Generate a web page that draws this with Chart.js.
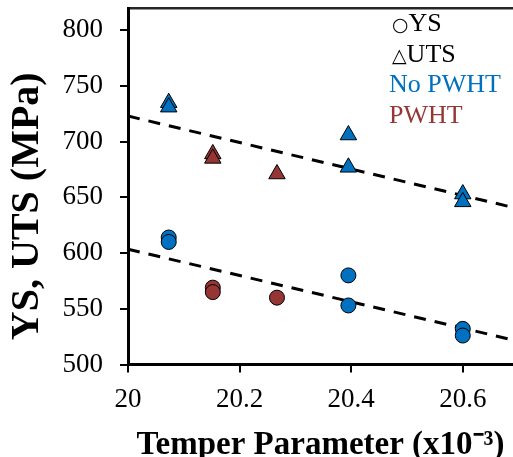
<!DOCTYPE html>
<html><head><meta charset="utf-8">
<script src="https://cdn.jsdelivr.net/npm/chart.js@4/dist/chart.umd.min.js"></script>
<style>html,body{margin:0;padding:0;background:#fff;overflow:hidden}#wrap{width:513px;height:457px;position:relative}canvas{display:block}</style>
</head><body><div id="wrap"><canvas id="c" width="513" height="457" style="width:513px;height:457px"></canvas></div>
<script>
// ---- data ----
const xTickValues = [20, 20.2, 20.4, 20.6];
const yTickValues = [500, 550, 600, 650, 700, 750, 800];
const xAxisTitle = 'Temper Parameter (x10\u207B\u00B3)';
const yAxisTitle = 'YS, UTS (MPa)    ';

const noPwhtX   = [20.073, 20.073, 20.395, 20.395, 20.6, 20.6];
const noPwhtYS  = [614, 610, 580, 553, 532, 526];
const noPwhtUTS = [735, 731, 706, 677, 653, 646];

const pwhtX   = [20.152, 20.152, 20.267];
const pwhtYS  = [569, 565, 560];
const pwhtUTS = [689, 685, 671];

const trendX      = [20, 20.69];
const trendUTS    = [723, 641];
const trendYS     = [603.5, 522];

const legendSymbols = ['\u25CB', '\u25B3', '', ''];
const legendLabels  = ['YS', 'UTS', 'No PWHT', 'PWHT'];
const legendColors  = ['#000000', '#000000', '#0070C0', '#953735'];

// ---- build ----
const BLUE = '#0070C0', RED = '#963634';
const pts = (xs, ys) => xs.map((x, i) => ({x, y: ys[i]}));

const markerDs = (label, xs, ys, color, style, r) => ({
  type: 'scatter', label, data: pts(xs, ys),
  pointStyle: style, pointRadius: r, pointHoverRadius: r,
  backgroundColor: color, borderColor: '#000', pointBorderWidth: 1,
  borderWidth: 1
});
const trendDs = (label, ys) => ({
  type: 'line', label, data: pts(trendX, ys),
  borderColor: '#000', borderWidth: 3, borderDash: [12, 9],
  pointRadius: 0, fill: false
});

const legendPlugin = {
  id: 'textLegend',
  afterDraw(chart) {
    const {ctx, chartArea} = chart;
    const x0 = chartArea.left + 263, y0 = chartArea.top + 23, step = 30.5;
    ctx.save();
    ctx.textBaseline = 'alphabetic';
    legendLabels.forEach((lab, i) => {
      let x = x0;
      const y = y0 + i * step;
      ctx.fillStyle = legendColors[i];
      if (legendSymbols[i]) {
        ctx.font = (i === 0 ? '19px' : '19px') + ' "DejaVu Sans"';
        ctx.fillText(legendSymbols[i], x + 1, y);
        x += ctx.measureText(legendSymbols[i]).width + 1;
      } else {
        x -= 2;
      }
      ctx.font = '26px "Liberation Serif"';
      ctx.fillText(lab, x, y);
    });
    ctx.restore();
  }
};

new Chart(document.getElementById('c'), {
  data: {
    datasets: [
      markerDs('No PWHT YS', noPwhtX, noPwhtYS, BLUE, 'circle', 7.5),
      markerDs('PWHT YS', pwhtX, pwhtYS, RED, 'circle', 7.5),
      markerDs('No PWHT UTS', noPwhtX, noPwhtUTS, BLUE, 'triangle', 9.5),
      markerDs('PWHT UTS', pwhtX, pwhtUTS, RED, 'triangle', 9.5),
      trendDs('UTS trend', trendUTS),
      trendDs('YS trend', trendYS)
    ]
  },
  options: {
    responsive: false, animation: false, devicePixelRatio: 1,
    layout: {autoPadding: false, padding: {top: 8, right: 0, bottom: 0, left: 0}},
    plugins: {legend: {display: false}, tooltip: {enabled: false}},
    scales: {
      x: {
        type: 'linear', position: 'bottom', min: 20, max: 20.69,
        afterBuildTicks: s => { s.ticks = xTickValues.map(v => ({value: v})); },
        afterFit: s => { s.paddingLeft = 0; s.paddingRight = 0; },
        ticks: {font: {family: 'Liberation Serif', size: 27}, color: '#000', padding: 11,
                callback: v => String(v)},
        grid: {drawOnChartArea: false, drawTicks: true, tickLength: 8, color: '#000', lineWidth: 2},
        border: {display: true, color: '#000', width: 3},
        title: {display: true, text: xAxisTitle, color: '#000',
                font: {family: 'Liberation Serif', size: 33, weight: 'bold', lineHeight: 0.7},
                padding: {top: 7, bottom: 0}}
      },
      x2: {
        type: 'linear', position: 'top', min: 20, max: 20.69,
        afterFit: s => { s.paddingLeft = 0; s.paddingRight = 0; },
        ticks: {display: false},
        grid: {display: false, drawTicks: false},
        border: {display: true, color: '#262626', width: 2.5}
      },
      y: {
        type: 'linear', position: 'left', min: 500, max: 820,
        afterBuildTicks: s => { s.ticks = yTickValues.map(v => ({value: v})); },
        afterFit: s => { s.width = 128; s.paddingTop = 0; s.paddingBottom = 0; },
        ticks: {font: {family: 'Liberation Serif', size: 27}, color: '#000', padding: 17},
        grid: {drawOnChartArea: false, drawTicks: true, tickLength: 8, color: '#000', lineWidth: 2},
        border: {display: true, color: '#000', width: 3},
        title: {display: true, text: yAxisTitle, color: '#000',
                font: {family: 'Liberation Serif', size: 40, weight: 'bold', lineHeight: 1},
                padding: {top: 8, bottom: 0}}
      }
    }
  },
  plugins: [legendPlugin]
});
</script>
</body></html>
